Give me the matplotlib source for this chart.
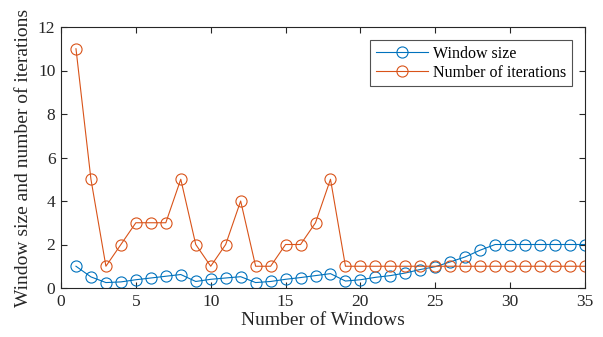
import matplotlib
matplotlib.use("Agg")
import matplotlib.pyplot as plt
import numpy as np

plt.rcParams['font.family'] = ['Liberation Serif', 'DejaVu Serif']

windows = list(range(1, 36))
window_size = [1.0, 0.51, 0.25, 0.28, 0.38, 0.46, 0.54, 0.62, 0.3, 0.4, 0.46, 0.52,
               0.25, 0.3, 0.4, 0.48, 0.57, 0.66, 0.32, 0.38, 0.49, 0.57, 0.69, 0.85,
               0.98, 1.2, 1.43, 1.74, 2.0, 2.0, 2.0, 2.0, 2.0, 2.0, 2.0]
iterations = [11, 5, 1, 2, 3, 3, 3, 5, 2, 1, 2, 4, 1, 1, 2, 2, 3, 5] + [1] * 17

fig = plt.figure(figsize=(6.03, 3.37), dpi=100)
ax = fig.add_axes([61/603, 1 - 288/337, (585-61)/603, (288-27)/337])

ax.plot(windows, window_size, '-o', color='#0072BD', mfc='none', ms=8, lw=0.8, mew=0.8, label='Window size')
ax.plot(windows, iterations, '-o', color='#D95319', mfc='none', ms=8, lw=0.8, mew=0.8, label='Number of iterations')

ax.set_xlim(0, 35)
ax.set_ylim(0, 12)
ax.set_xticks(range(0, 36, 5))
ax.set_yticks(range(0, 13, 2))
ax.tick_params(direction='in', top=True, right=True, labelsize=12.5, length=4, width=0.8, colors='#262626', pad=4)
for s in ax.spines.values():
    s.set_linewidth(0.8)
    s.set_color('#262626')
ax.set_xlabel('Number of Windows', fontsize=14, color='#262626', labelpad=2)
ax.set_ylabel('Window size and number of iterations', fontsize=14, color='#262626', labelpad=4)

leg = ax.legend(loc='upper right', fontsize=11.5, handlelength=3.3, frameon=True, fancybox=False,
                edgecolor='#262626', borderpad=0.35, labelspacing=0.2, handletextpad=0.3,
                borderaxespad=0, bbox_to_anchor=((572-61)/524, (288-40)/261))
leg.get_frame().set_linewidth(0.8)

fig.savefig('out.png', dpi=100)
